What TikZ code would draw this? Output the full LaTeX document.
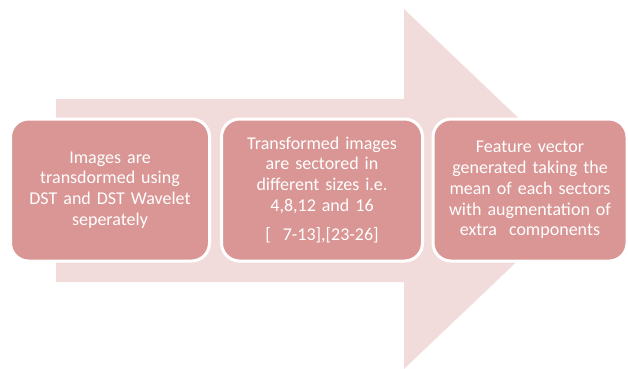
\documentclass[tikz,border=0pt]{standalone}
\usepackage{fontspec}
\setmainfont{Carlito}
\usepackage{xcolor}
\definecolor{arrowpink}{HTML}{F2DCDB}
\definecolor{boxpink}{HTML}{D99694}

\begin{document}
\begin{tikzpicture}[x=1pt, y=-1pt,
  stage/.style={draw=white, line width=3pt, fill=boxpink, rounded corners=18pt,
    minimum height=142pt, text=white, align=center, inner sep=0pt,
    font=\fontsize{18}{20.7}\selectfont}]
\useasboundingbox (0,0) rectangle (628,368);
% big background arrow
\fill[arrowpink] (56,99) -- (404,99) -- (404,9) -- (593,189) -- (404,369) -- (404,282) -- (56,282) -- cycle;
% the three stages
\node[stage, minimum width=199pt, text width=185pt] (imgs) at (110,190)
  {Images are\\transdormed using\\DST and DST Wavelet\\seperately};
\node[stage, minimum width=201pt, text width=190pt] (sect) at (322,190)
  {Transformed images\\are sectored in\\different sizes i.e.\\4,8,12 and 16\\[9pt]{[}\ \ 7-13],[23-26]};
\node[stage, minimum width=194pt, text width=185pt] (feat) at (530,190)
  {Feature vector\\generated taking the\\mean of each sectors\\with augmentation of\\extra\ \ components};
\end{tikzpicture}
\end{document}
